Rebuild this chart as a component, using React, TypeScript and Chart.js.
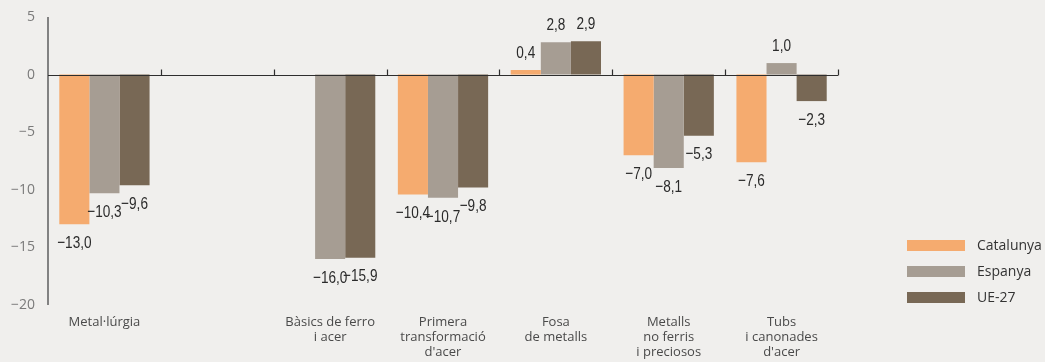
import React, { useEffect, useRef } from "react";
import { Chart, registerables } from "chart.js";
Chart.register(...registerables);

const categories: string[][] = [
  ["Metal·lúrgia"],
  [""],
  ["Bàsics de ferro", "i acer"],
  ["Primera", "transformació", "d'acer"],
  ["Fosa", "de metalls"],
  ["Metalls", "no ferris", "i preciosos"],
  ["Tubs", "i canonades", "d'acer"],
];
const catalunya = [-13.0, null, null, -10.4, 0.4, -7.0, -7.6];
const espanya = [-10.3, null, -16.0, -10.7, 2.8, -8.1, 1.0];
const ue27 = [-9.6, null, -15.9, -9.8, 2.9, -5.3, -2.3];
const seriesNames = ["Catalunya", "Espanya", "UE-27"];
const seriesColors = ["#f5ab6f", "#a69d93", "#786855"];
const yMin = -20;
const yMax = 5;
const yStep = 5;

const BG = "#f0efed";

const fmt = (v: number) => {
  const s = Math.abs(v).toFixed(1).replace(".", ",");
  return v < 0 ? "\u2212" + s : s;
};

const decor = {
  id: "decor",
  beforeDraw(chart: any) {
    const { ctx, width, height } = chart;
    ctx.save();
    ctx.fillStyle = BG;
    ctx.fillRect(0, 0, width, height);
    ctx.restore();
  },
  afterDatasetsDraw(chart: any) {
    const { ctx, chartArea, scales } = chart;
    const y = scales.y;
    ctx.save();
    // y axis line
    ctx.strokeStyle = "#5e5e5e";
    ctx.lineWidth = 1.5;
    ctx.beginPath();
    ctx.moveTo(chartArea.left, chartArea.top);
    ctx.lineTo(chartArea.left, chartArea.bottom);
    ctx.stroke();
    // zero line
    const y0 = Math.round(y.getPixelForValue(0)) + 0.5;
    ctx.strokeStyle = "#2e2e2e";
    ctx.lineWidth = 1.2;
    ctx.beginPath();
    ctx.moveTo(chartArea.left, y0);
    ctx.lineTo(chartArea.right, y0);
    const n = categories.length;
    for (let i = 1; i <= n; i++) {
      const xb = Math.round(chartArea.left + (i * (chartArea.right - chartArea.left)) / n) + 0.5;
      ctx.moveTo(xb, y0 - 6);
      ctx.lineTo(xb, y0);
    }
    ctx.stroke();
    // value labels
    ctx.fillStyle = "#2b2b2b";
    ctx.font = "17px 'Liberation Sans', Arial, sans-serif";
    ctx.textAlign = "center";
    ctx.textBaseline = "middle";
    const sx = 0.8;
    chart.data.datasets.forEach((ds: any, di: number) => {
      const meta = chart.getDatasetMeta(di);
      meta.data.forEach((bar: any, i: number) => {
        const v = ds.data[i];
        if (v === null || v === undefined) return;
        const ty = v < 0 ? bar.y + 19 : bar.y - 17;
        ctx.save();
        ctx.translate(bar.x, ty);
        ctx.scale(sx, 1);
        ctx.fillText(fmt(v), 0, 0);
        ctx.restore();
      });
    });
    // legend
    ctx.font = "14px 'Open Sans', sans-serif";
    ctx.textAlign = "left";
    const tops = [240, 266, 292];
    seriesNames.forEach((name, i) => {
      ctx.fillStyle = seriesColors[i];
      ctx.fillRect(907, tops[i], 58, 11);
      ctx.fillStyle = "#333333";
      ctx.fillText(name, 977, tops[i] + 6);
    });
    ctx.restore();
  },
};

export default function App() {
  const ref = useRef<HTMLCanvasElement | null>(null);
  useEffect(() => {
    document.body.style.margin = "0";
    document.body.style.background = BG;
    const chart = new Chart(ref.current as HTMLCanvasElement, {
      type: "bar",
      data: {
        labels: categories,
        datasets: [
          { label: seriesNames[0], data: catalunya, backgroundColor: seriesColors[0] },
          { label: seriesNames[1], data: espanya, backgroundColor: seriesColors[1] },
          { label: seriesNames[2], data: ue27, backgroundColor: seriesColors[2] },
        ],
      },
      options: {
        animation: false,
        responsive: true,
        maintainAspectRatio: false,
        layout: { padding: { top: 17, right: 207, left: 0, bottom: 0 } },
        datasets: { bar: { categoryPercentage: 0.8, barPercentage: 1.0 } },
        plugins: { legend: { display: false }, tooltip: { enabled: false } },
        scales: {
          x: {
            grid: { display: false, drawTicks: false },
            border: { display: false },
            ticks: {
              color: "#4a4a4a",
              font: { family: "'Open Sans', sans-serif", size: 13, lineHeight: 1.15 },
              padding: 10,
              maxRotation: 0,
              autoSkip: false,
            },
            afterFit: (s: any) => {
              s.height = 57;
              s.paddingLeft = 0;
              s.paddingRight = 0;
            },
          },
          y: {
            min: yMin,
            max: yMax,
            grid: { display: false, drawTicks: false },
            border: { display: false },
            ticks: {
              stepSize: yStep,
              color: "#7a7a7a",
              font: { family: "'Open Sans', sans-serif", size: 14 },
              padding: 13,
              callback: (v: any) => (v < 0 ? "\u2212" + Math.abs(v) : String(v)),
            },
            afterFit: (s: any) => {
              s.width = 48;
              s.paddingTop = 0;
              s.paddingBottom = 0;
            },
          },
        },
      },
      plugins: [decor],
    });
    return () => chart.destroy();
  }, []);
  return (
    <div style={{ position: "absolute", left: 0, top: 0, width: 1045, height: 362, background: BG }}>
      <canvas ref={ref} />
    </div>
  );
}
